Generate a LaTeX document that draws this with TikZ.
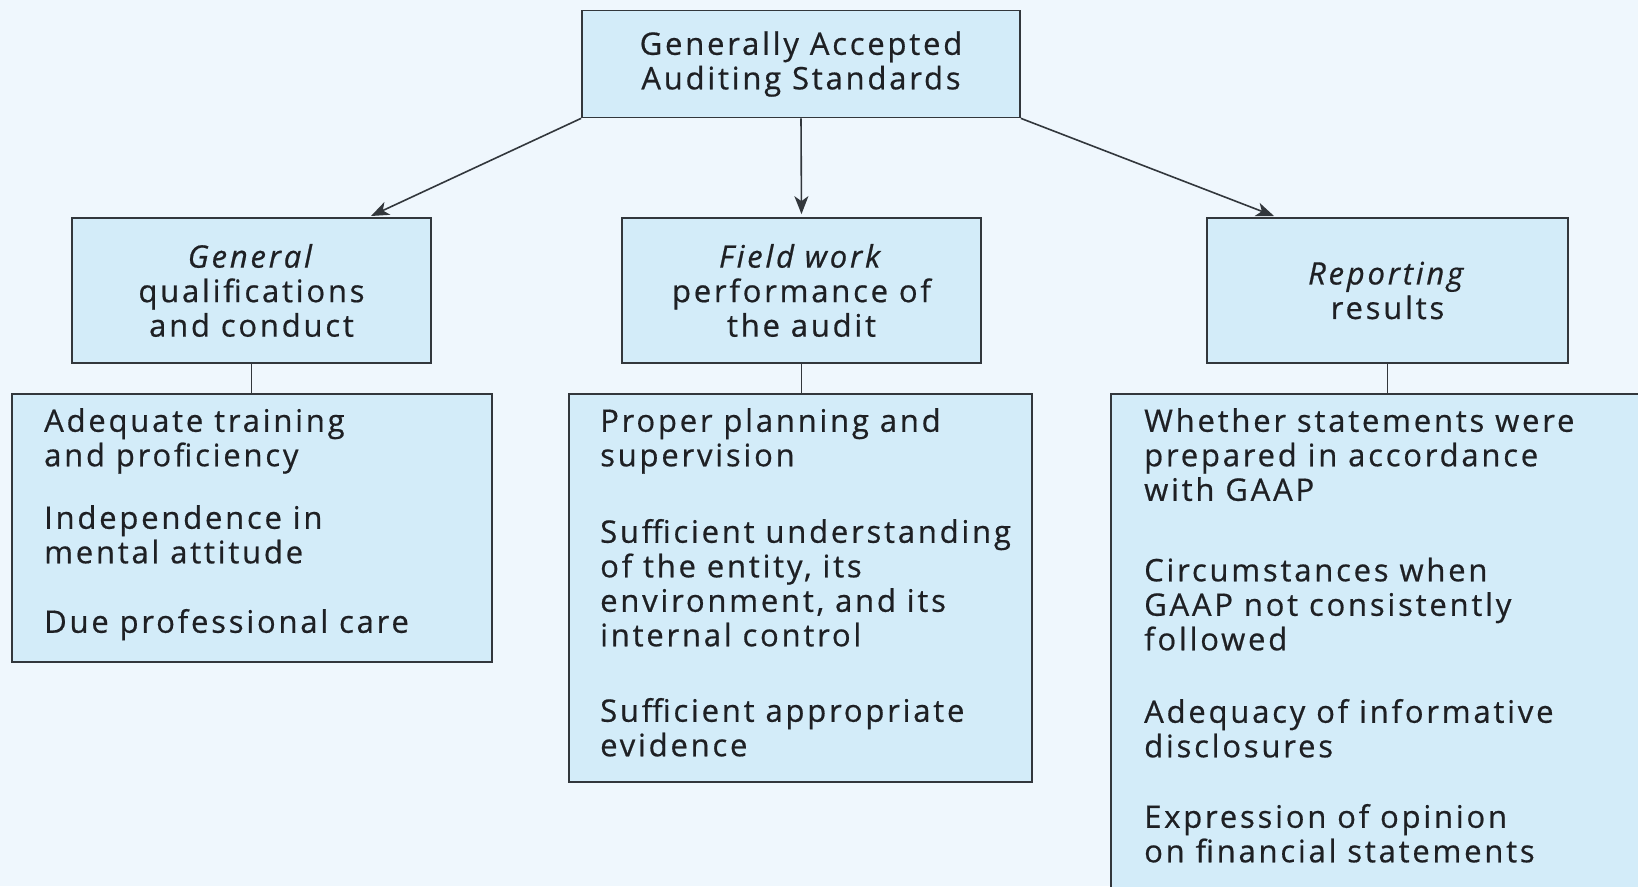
\documentclass[tikz,border=0pt]{standalone}
\usepackage{fontspec}
\setmainfont{Open Sans}[LetterSpace=9,FakeBold=0.6]
\usetikzlibrary{arrows.meta}
\definecolor{bgblue}{RGB}{239,247,253}
\definecolor{boxblue}{RGB}{211,236,249}
\definecolor{edge}{RGB}{50,55,60}
\definecolor{ink}{RGB}{30,32,36}
\newcommand{\chartfont}{\fontsize{31}{34.5}\selectfont}
\begin{document}
\begin{tikzpicture}[x=1pt,y=-1pt,
  box/.style={draw=edge,line width=1.7pt,fill=boxblue,inner sep=0pt},
  head/.style={box,align=center,font=\chartfont,text=ink},
  list/.style={align=left,font=\chartfont,text=ink,anchor=north west,inner sep=0pt},
  arr/.style={draw=edge,line width=1.6pt,-{Stealth[length=18pt,width=14pt,inset=5pt]}},
  link/.style={draw=edge,line width=1.7pt}]
\fill[bgblue] (0,0) rectangle (1638,886);
\useasboundingbox (0,0) rectangle (1638,886);
\clip (0,0) rectangle (1638,886);

% heading boxes
\node[head,minimum width=438pt,minimum height=107pt] (top) at (801,64)
  {Generally Accepted\\Auditing Standards};
\node[head,minimum width=359pt,minimum height=145pt] (gen) at (251.5,290.5)
  {\textit{General}\\qualifications\\and conduct};
\node[head,minimum width=359pt,minimum height=145pt] (fld) at (801.5,290.5)
  {\textit{Field work}\\performance of\\the audit};
\node[head,minimum width=361pt,minimum height=145pt] (rep) at (1387.5,290.5)
  {\textit{Reporting}\\results};

% standard boxes
\node[box,minimum width=480pt,minimum height=268pt] (bgen) at (251.75,528) {};
\node[box,minimum width=463pt,minimum height=388pt] (bfld) at (800.5,588) {};
\node[box,minimum width=580pt,minimum height=540pt] (brep) at (1401,664) {};

\node[list] (tgen) at (44,408)
  {Adequate training\\and proficiency\\[28pt]Independence in\\mental attitude\\[35pt]Due professional care};
\node[list] (tfld) at (600,408)
  {Proper planning and\\supervision\\[42pt]Sufficient understanding\\of the entity, its\\environment, and its\\internal control\\[41pt]Sufficient appropriate\\evidence};
\node[list] (trep) at (1144,408)
  {Whether statements were\\prepared in accordance\\with GAAP\\[46pt]Circumstances when\\GAAP not consistently\\followed\\[38pt]Adequacy of informative\\disclosures\\[36pt]Expression of opinion\\on financial statements};

% arrows from the standards to the three groups
\coordinate (gin) at (371,216);
\coordinate (rin) at (1274,216);
\draw[arr] (top.south west) -- (gin);
\draw[arr,shorten >=3pt] (top.south) -- (fld.north);
\draw[arr] (top.south east) -- (rin);

% links from groups to their lists
\draw[link] (gen.south) -- (gen.south |- bgen.north);
\draw[link] (fld.south) -- (fld.south |- bfld.north);
\draw[link] (rep.south) -- (rep.south |- brep.north);
\end{tikzpicture}
\end{document}
